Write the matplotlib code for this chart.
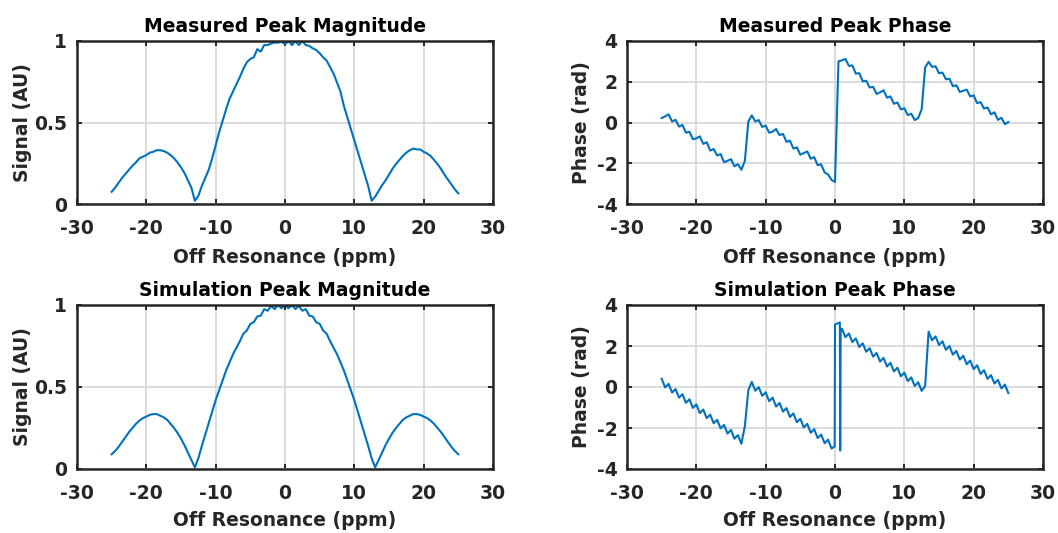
import numpy as np
import matplotlib
matplotlib.use("Agg")
import matplotlib.pyplot as plt

plt.rcParams['font.family'] = ['DejaVu Sans']
plt.rcParams['font.weight'] = 'bold'
plt.rcParams['axes.unicode_minus'] = False

# off-resonance grid (ppm), 0.5 ppm steps from -25 to 25
freq = np.linspace(-25, 25, 101)

meas_mag = [
    0.075, 0.10, 0.13, 0.16, 0.185, 0.21, 0.235, 0.255, 0.28, 0.29,
    0.30, 0.315, 0.32, 0.33, 0.33, 0.325, 0.315, 0.30, 0.28, 0.255,
    0.225, 0.19, 0.145, 0.10, 0.02, 0.05, 0.11, 0.16, 0.21, 0.28,
    0.36, 0.44, 0.51, 0.58, 0.645, 0.69, 0.735, 0.78, 0.83, 0.87,
    0.89, 0.90, 0.95, 0.935, 0.975, 0.975, 0.985, 0.99, 0.99, 0.995,
    0.98, 1.0, 0.975, 1.0, 0.975, 1.0, 0.975, 0.97, 0.955, 0.945,
    0.925, 0.90, 0.88, 0.84, 0.80, 0.745, 0.69, 0.60, 0.53, 0.46,
    0.39, 0.32, 0.25, 0.18, 0.11, 0.02, 0.045, 0.08, 0.115, 0.145,
    0.18, 0.215, 0.245, 0.27, 0.295, 0.315, 0.33, 0.34, 0.335, 0.335,
    0.32, 0.31, 0.295, 0.27, 0.245, 0.215, 0.18, 0.15, 0.12, 0.09,
    0.065,
]

meas_phase = [
    0.22, 0.30, 0.40, 0.05, 0.13, -0.20, -0.12, -0.50, -0.45, -0.82,
    -0.78, -0.68, -1.05, -0.97, -1.38, -1.30, -1.62, -1.55, -1.95, -1.88,
    -1.80, -2.15, -2.05, -2.32, -1.88, 0.05, 0.35, 0.05, 0.12, -0.22,
    -0.15, -0.50, -0.45, -0.32, -0.62, -0.56, -0.95, -0.89, -1.28, -1.22,
    -1.58, -1.50, -1.42, -1.78, -1.70, -2.10, -2.05, -2.45, -2.55, -2.82,
    -2.92, 3.00, 3.05, 3.12, 2.78, 2.80, 2.40, 2.42, 2.02, 2.05,
    1.72, 1.75, 1.40, 1.48, 1.58, 1.22, 1.28, 0.92, 0.98, 0.64,
    0.70, 0.36, 0.43, 0.12, 0.22, 0.65, 2.70, 2.98, 2.73, 2.76,
    2.42, 2.45, 2.12, 2.15, 1.78, 1.83, 1.50, 1.56, 1.61, 1.28,
    1.33, 0.95, 1.00, 0.68, 0.74, 0.40, 0.50, 0.13, 0.23, -0.08,
    0.02,
]

sim_mag = [
    0.09, 0.11, 0.135, 0.165, 0.195, 0.225, 0.25, 0.275, 0.295, 0.31,
    0.32, 0.33, 0.335, 0.335, 0.325, 0.315, 0.30, 0.275, 0.25, 0.22,
    0.185, 0.145, 0.10, 0.055, 0.01, 0.065, 0.14, 0.21, 0.28, 0.35,
    0.42, 0.48, 0.54, 0.60, 0.65, 0.70, 0.74, 0.78, 0.825, 0.845,
    0.885, 0.895, 0.93, 0.935, 0.975, 0.965, 0.995, 0.975, 1.0, 0.98,
    1.0, 0.98, 1.0, 0.975, 0.995, 0.965, 0.975, 0.935, 0.93, 0.895,
    0.885, 0.845, 0.825, 0.78, 0.74, 0.70, 0.65, 0.60, 0.54, 0.48,
    0.42, 0.35, 0.28, 0.21, 0.14, 0.065, 0.01, 0.055, 0.10, 0.145,
    0.185, 0.22, 0.25, 0.275, 0.30, 0.315, 0.325, 0.335, 0.335, 0.33,
    0.32, 0.31, 0.295, 0.275, 0.25, 0.225, 0.195, 0.165, 0.135, 0.11,
    0.09,
]

sim_phase = [
    0.40, -0.02, 0.15, -0.27, -0.10, -0.52, -0.35, -0.77, -0.60, -1.02,
    -0.85, -1.27, -1.10, -1.52, -1.35, -1.77, -1.60, -2.02, -1.85, -2.27,
    -2.10, -2.52, -2.35, -2.77, -1.90, -0.15, 0.25, -0.18, -0.01, -0.43,
    -0.26, -0.69, -0.52, -0.95, -0.78, -1.20, -1.03, -1.46, -1.29, -1.72,
    -1.55, -1.97, -1.80, -2.23, -2.06, -2.49, -2.32, -2.74, -2.57, -3.00,
    3.05, 3.12, 2.85, 2.43, 2.61, 2.19, 2.37, 1.95, 2.13, 1.72,
    1.89, 1.48, 1.66, 1.24, 1.42, 1.00, 1.18, 0.76, 0.94, 0.52,
    0.70, 0.29, 0.47, 0.05, 0.23, -0.19, 0.05, 2.70, 2.28, 2.47,
    2.05, 2.23, 1.81, 2.00, 1.58, 1.76, 1.34, 1.52, 1.11, 1.29,
    0.87, 1.06, 0.64, 0.82, 0.40, 0.58, 0.17, 0.35, -0.07, 0.12,
    -0.30,
]

# extra simulated samples around the 2*pi wrap near 0 ppm
wrap_x = [-0.05, 0.70, 0.75, 0.82]
wrap_y = [-2.90, 3.15, -3.10, 2.80]

sim_x = np.concatenate([freq, wrap_x])
sim_y = np.concatenate([sim_phase, wrap_y])
order = np.argsort(sim_x, kind='stable')
sim_x, sim_y = sim_x[order], sim_y[order]

blue = '#0072BD'
dark = '#262626'
fs = 13.5

fig = plt.figure(figsize=(10.58, 5.33), dpi=100)
W, H = 1058, 533
# axes boxes in pixels: left, top, right, bottom
boxes = [
    (77, 41, 493, 204),
    (627, 41, 1043, 204),
    (77, 305, 493, 469),
    (627, 305, 1043, 469),
]
panels = [
    (freq, meas_mag, 'Measured Peak Magnitude', 'Signal (AU)', (0, 1), [0, 0.5, 1]),
    (freq, meas_phase, 'Measured Peak Phase', 'Phase (rad)', (-4, 4), [-4, -2, 0, 2, 4]),
    (freq, sim_mag, 'Simulation Peak Magnitude', 'Signal (AU)', (0, 1), [0, 0.5, 1]),
    (sim_x, sim_y, 'Simulation Peak Phase', 'Phase (rad)', (-4, 4), [-4, -2, 0, 2, 4]),
]
ylab_x = [23, 582, 23, 582]
xlab_off = [53.5, 53.5, 51, 51]

for i, ((l, t, r, b), (x, y, title, ylab, ylim, yt)) in enumerate(zip(boxes, panels)):
    hpx = b - t
    wpx = r - l
    ax = fig.add_axes([l / W, 1 - b / H, wpx / W, hpx / H])
    ax.plot(x, y, color=blue, lw=1.5)
    ax.set_xlim(-30, 30)
    ax.set_ylim(*ylim)
    ax.set_xticks([-30, -20, -10, 0, 10, 20, 30])
    ax.set_yticks(yt)
    ax.set_yticklabels([('%g' % v) for v in yt])
    ax.grid(True, color='#dadada', lw=1.4)
    ax.set_axisbelow(True)
    for s in ax.spines.values():
        s.set_linewidth(1.8)
        s.set_color(dark)
    ax.tick_params(direction='in', length=3.5, width=1.4, colors=dark,
                   labelsize=fs, top=True, right=True)
    ax.tick_params(axis='x', pad=11)
    ax.tick_params(axis='y', pad=7)
    for lab in ax.get_xticklabels() + ax.get_yticklabels():
        lab.set_fontweight('bold')
    ax.text(0.5, 1 + 8.5 / hpx, title, transform=ax.transAxes, ha='center',
            va='baseline', fontsize=fs, fontweight='bold', color='black')
    ax.set_xlabel('Off Resonance (ppm)', fontsize=fs, fontweight='bold', color=dark,
                  va='center')
    ax.xaxis.set_label_coords(0.5, -xlab_off[i] / hpx)
    ax.set_ylabel(ylab, fontsize=fs, fontweight='bold', color=dark, va='center')
    ax.yaxis.set_label_coords((ylab_x[i] - l) / wpx, 0.5)

fig.savefig('out.png', dpi=100)
